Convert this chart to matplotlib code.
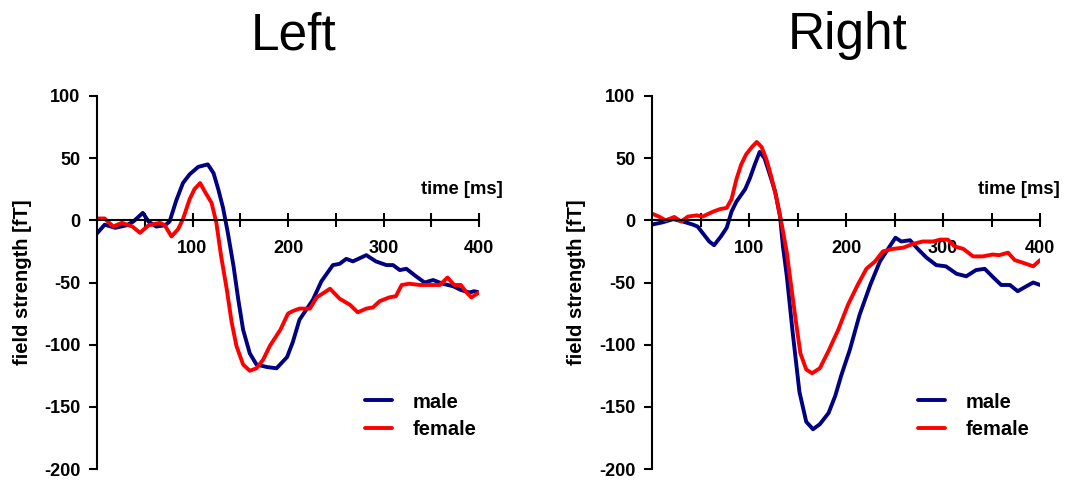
import matplotlib
matplotlib.use('Agg')
import matplotlib.pyplot as plt
from matplotlib.transforms import blended_transform_factory

# ---- data (time in ms, field strength in fT) ----
t_left_male = [0, 8, 19, 31, 38, 48, 54, 62, 71, 76, 83, 90, 97, 106, 116, 122, 127, 132, 137,
               143, 148, 153, 160, 167, 178, 188, 199, 205, 212, 219, 226, 235, 247, 254, 261,
               268, 282, 292, 303, 310, 317, 324, 334, 343, 352, 362, 373, 381, 390, 395, 400]
left_male = [-10.5, -3.5, -6, -4, -1, 6, -1, -5, -4, -1, 16, 30, 37, 43, 45, 38, 25, 10, -10,
             -37, -64, -88, -107, -116, -118, -119, -110, -98, -80, -72, -64, -49, -36, -35, -31,
             -33, -28, -33, -36, -36, -40, -39, -45, -50, -48, -51, -53, -56, -58, -57, -58]

t_left_female = [0, 8, 17, 26, 37, 45, 54, 66, 71, 78, 85, 90, 97, 102, 108, 113, 120, 125, 130,
                 136, 141, 146, 153, 160, 167, 174, 181, 192, 200, 205, 212, 223, 230, 244, 254,
                 265, 273, 282, 289, 296, 306, 313, 319, 327, 338, 348, 359, 367, 374, 381, 387,
                 392, 400]
left_female = [1.5, 1.5, -5, -2, -5, -10, -4, -2, -4, -13, -7, 1, 17, 25, 30, 23, 14, -2, -29,
               -56, -82, -101, -116, -121, -119, -112, -101, -88, -75, -73, -71, -71, -62, -55, -63,
               -68, -74, -71, -70, -65, -62, -61, -52, -51, -52, -52, -52, -46, -52, -52, -58,
               -62, -58]

t_right_male = [0, 11, 22, 32, 42, 47, 54, 59, 64, 71, 77, 82, 87, 96, 101, 106, 111, 116, 121,
                127, 132, 135, 139, 145, 152, 159, 166, 173, 182, 189, 195, 204, 214, 225, 235,
                245, 251, 257, 266, 274, 283, 293, 303, 314, 324, 334, 343, 352, 360, 369, 377,
                386, 393, 400]
right_male = [-3.4, -1.6, 1, -1, -3.4, -5, -12, -17, -20, -13, -6, 7, 15, 25, 34, 45, 55, 50, 38,
              23, 3, -21, -45, -90, -138, -162, -168, -164, -155, -141, -125, -104, -76, -52, -33,
              -21, -14, -17, -16, -23, -30, -36, -37, -43, -45, -40, -39, -46, -52, -52, -57,
              -53, -50, -52]

t_right_female = [0, 8, 14, 23, 30, 37, 46, 52, 63, 70, 77, 82, 87, 92, 97, 103, 108, 113, 118,
                  123, 128, 133, 139, 144, 149, 153, 159, 165, 173, 182, 192, 202, 212, 221, 230,
                  238, 248, 259, 269, 279, 290, 297, 305, 312, 321, 331, 341, 351, 358, 367, 374,
                  382, 393, 400]
right_female = [5.4, 2.7, 0, 2.7, -1, 3, 4, 3, 7, 9, 10, 17, 33, 45, 53, 59, 63, 59, 49,
                35, 19, 0, -26, -56, -85, -107, -120, -123, -119, -105, -88, -68, -52, -39, -33,
                -25, -23, -22, -19, -17, -17, -15.5, -15.5, -21, -23, -29, -29, -27.5, -28, -26, -32,
                -34, -37, -32]

x_major = [100, 200, 300, 400]
x_minor = [50, 150, 250, 350]
y_ticks = [-200, -150, -100, -50, 0, 50, 100]

MALE = '#000080'
FEMALE = '#ff0000'

plt.rcParams['font.family'] = ['Liberation Sans', 'DejaVu Sans']
plt.rcParams['font.weight'] = 'bold'
plt.rcParams['axes.unicode_minus'] = False

fig = plt.figure(figsize=(10.66, 4.8), dpi=100)
ax_l = fig.add_axes([97 / 1066, 11 / 480, 382 / 1066, 373 / 480])
ax_r = fig.add_axes([652 / 1066, 11 / 480, 388 / 1066, 373 / 480])

# axes, title, title centre (px), data, legend x, "time" label right end
panels = [
    (ax_l, 'Left', 294, t_left_male, left_male, t_left_female, left_female, 0.702, 1.063),
    (ax_r, 'Right', 848, t_right_male, right_male, t_right_female, right_female, 0.686, 1.052),
]

for ax, title, title_x, tm, m, tf, f, leg_x, time_x in panels:
    ax.plot(tm, m, color=MALE, lw=2.8, label='male',
            solid_joinstyle='round', solid_capstyle='round')
    ax.plot(tf, f, color=FEMALE, lw=2.8, label='female',
            solid_joinstyle='round', solid_capstyle='round')

    ax.set_xlim(0, 400)
    ax.set_ylim(-200, 100)

    ax.spines['top'].set_visible(False)
    ax.spines['right'].set_visible(False)
    ax.spines['bottom'].set_position(('data', 0))
    for s in ('left', 'bottom'):
        ax.spines[s].set_linewidth(1.5)

    ax.set_xticks(x_major)
    ax.set_xticks(x_minor, minor=True)
    ax.set_yticks(y_ticks)
    ax.tick_params(axis='x', which='both', direction='inout', length=10, width=1.5,
                   labelsize=13, pad=9)
    ax.tick_params(axis='y', direction='out', length=6, width=1.5, labelsize=13, pad=6)
    for lab in ax.get_xticklabels() + ax.get_yticklabels():
        lab.set_fontweight('bold')

    ax.set_ylabel('field strength [fT]', fontsize=14.5, fontweight='bold')
    ax.yaxis.set_label_coords(-0.17, 0.5)

    trans = blended_transform_factory(ax.transAxes, ax.transData)
    ax.text(time_x, 25, 'time [ms]', transform=trans, ha='right', va='center',
            fontsize=13.3, fontweight='bold')

    ax.legend(loc='upper left', bbox_to_anchor=(leg_x, 0.205), frameon=False,
              prop={'size': 14.5, 'weight': 'bold'}, handlelength=1.34, handletextpad=1.0,
              labelspacing=0.44, borderpad=0, borderaxespad=0)

    fig.text(title_x / 1066, 1 - 49 / 480, title, ha='center', va='baseline',
             fontsize=37, fontweight='normal')

fig.savefig('out.png', dpi=100)
